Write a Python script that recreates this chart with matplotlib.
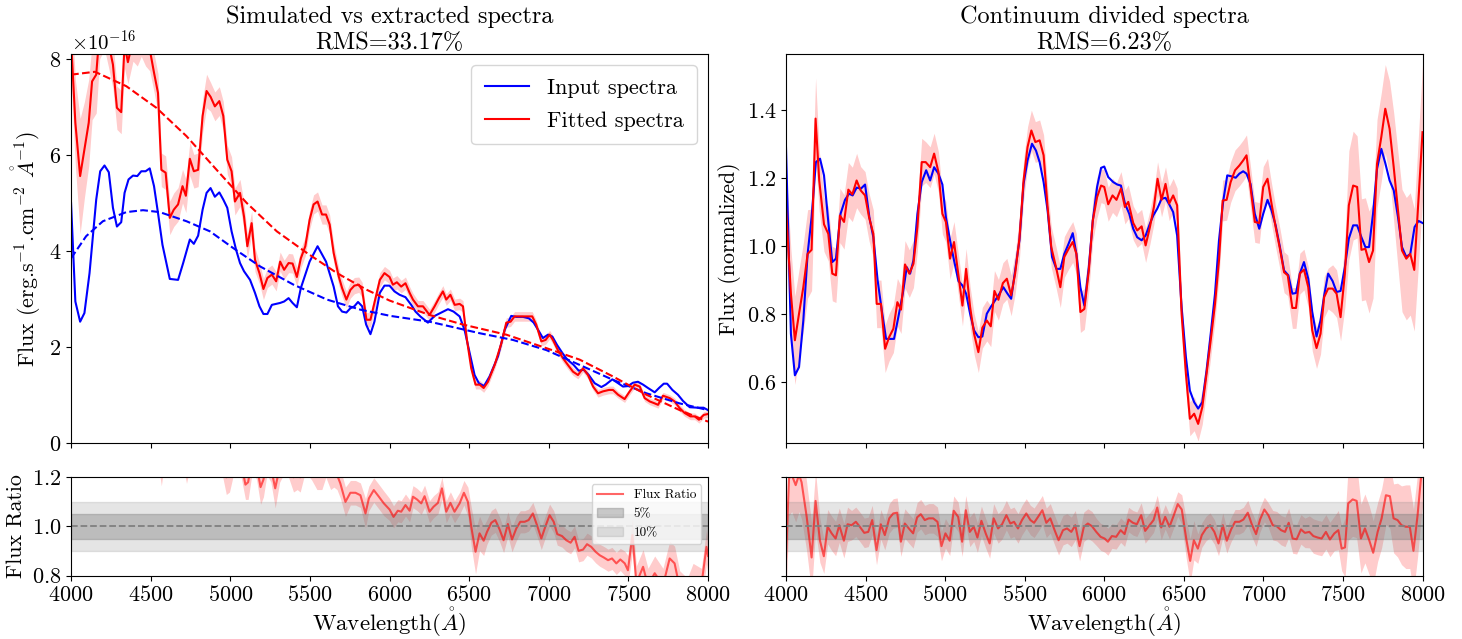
import matplotlib
matplotlib.use("Agg")
import matplotlib.pyplot as plt
import numpy as np

# ---- data (flux in units of 1e-16) ----
INPUT_SPEC = [
    (4000, 5.00), (4027, 2.95), (4057, 2.53), (4084, 2.71), (4116, 3.54), (4158, 5.07),
    (4183, 5.66), (4210, 5.78), (4237, 5.64), (4263, 4.90), (4288, 4.51), (4315, 4.60),
    (4336, 5.21), (4361, 5.49), (4389, 5.57), (4416, 5.56), (4441, 5.66), (4468, 5.66),
    (4494, 5.72), (4521, 5.35), (4546, 4.79), (4574, 4.13), (4620, 3.42), (4672, 3.40),
    (4704, 3.75), (4746, 4.24), (4771, 4.15), (4798, 4.32), (4826, 4.86), (4851, 5.21),
    (4876, 5.31), (4903, 5.13), (4931, 5.22), (4956, 5.07), (4981, 4.90), (5008, 4.41),
    (5036, 4.03), (5061, 3.75), (5086, 3.58), (5124, 3.40), (5155, 3.13), (5183, 2.85),
    (5208, 2.69), (5233, 2.69), (5261, 2.88), (5313, 2.92), (5338, 2.95), (5366, 3.02),
    (5391, 2.92), (5418, 2.83), (5443, 3.23), (5498, 3.78), (5548, 4.10), (5601, 3.78),
    (5649, 3.26), (5676, 2.85), (5702, 2.74), (5729, 2.72), (5754, 2.81), (5779, 2.85),
    (5802, 2.94), (5828, 2.85), (5853, 2.47), (5880, 2.27), (5905, 2.53), (5939, 3.13),
    (5968, 3.28), (6000, 3.28), (6031, 3.16), (6063, 3.09), (6100, 3.04), (6136, 2.88),
    (6163, 2.74), (6193, 2.64), (6241, 2.51), (6283, 2.65), (6325, 2.72), (6367, 2.79),
    (6402, 2.74), (6440, 2.64), (6471, 2.36), (6503, 1.88), (6534, 1.42), (6561, 1.25),
    (6593, 1.19), (6628, 1.39), (6681, 1.81), (6723, 2.36), (6764, 2.65), (6796, 2.63),
    (6838, 2.63), (6875, 2.60), (6905, 2.51), (6938, 2.33), (6963, 2.19), (6995, 2.26),
    (7022, 2.22), (7051, 2.05), (7085, 1.88), (7114, 1.75), (7156, 1.63), (7188, 1.51),
    (7219, 1.53), (7251, 1.42), (7288, 1.25), (7330, 1.17), (7357, 1.22), (7399, 1.33),
    (7435, 1.25), (7466, 1.18), (7497, 1.19), (7529, 1.26), (7560, 1.28), (7592, 1.22),
    (7623, 1.15), (7665, 1.06), (7692, 1.15), (7722, 1.24), (7743, 1.24), (7776, 1.11),
    (7811, 1.01), (7843, 0.88), (7885, 0.75), (7937, 0.74), (7972, 0.74), (8000, 0.69),
]

# (wavelength, flux, error)
FITTED_SPEC = [
    (4000, 8.40, 0.80), (4027, 6.67, 0.90), (4057, 5.56, 1.20), (4084, 6.11, 1.00),
    (4111, 6.67, 0.90), (4132, 7.53, 0.80), (4158, 7.67, 0.80), (4180, 8.60, 0.60),
    (4210, 8.80, 0.60), (4237, 8.30, 0.50), (4263, 7.88, 0.50), (4288, 6.98, 0.45),
    (4315, 6.89, 0.45), (4336, 8.30, 0.50), (4357, 7.93, 0.45), (4389, 8.40, 0.45),
    (4416, 8.30, 0.45), (4441, 8.50, 0.45), (4468, 8.30, 0.45), (4494, 8.20, 0.45),
    (4521, 7.71, 0.40), (4546, 7.29, 0.40), (4567, 5.69, 0.35), (4594, 5.63, 0.35),
    (4620, 4.69, 0.35), (4645, 4.86, 0.35), (4672, 4.97, 0.35), (4700, 5.35, 0.35),
    (4721, 5.15, 0.35), (4746, 5.92, 0.35), (4771, 5.66, 0.35), (4798, 5.69, 0.35),
    (4826, 6.81, 0.35), (4851, 7.33, 0.35), (4876, 7.21, 0.30), (4903, 7.01, 0.30),
    (4931, 7.12, 0.30), (4956, 6.81, 0.30), (4981, 5.90, 0.30), (5008, 5.66, 0.30),
    (5029, 5.03, 0.28), (5061, 5.21, 0.28), (5086, 4.72, 0.28), (5107, 4.10, 0.25),
    (5134, 4.58, 0.25), (5155, 3.82, 0.25), (5183, 3.54, 0.22), (5208, 3.21, 0.22),
    (5233, 3.44, 0.20), (5261, 3.51, 0.20), (5288, 3.37, 0.20), (5313, 3.78, 0.20),
    (5338, 3.61, 0.20), (5366, 3.75, 0.20), (5391, 3.74, 0.20), (5418, 3.46, 0.20),
    (5443, 3.85, 0.20), (5471, 4.10, 0.20), (5498, 4.65, 0.20), (5523, 4.97, 0.20),
    (5548, 5.03, 0.20), (5576, 4.76, 0.20), (5601, 4.76, 0.20), (5624, 4.55, 0.20),
    (5649, 3.96, 0.20), (5681, 3.47, 0.18), (5702, 3.23, 0.18), (5729, 2.99, 0.17),
    (5754, 3.19, 0.17), (5779, 3.28, 0.17), (5807, 3.30, 0.16), (5828, 3.19, 0.16),
    (5855, 2.57, 0.15), (5880, 2.57, 0.15), (5905, 2.92, 0.15), (5939, 3.40, 0.15),
    (5968, 3.54, 0.14), (6000, 3.46, 0.14), (6021, 3.30, 0.14), (6046, 3.35, 0.14),
    (6073, 3.26, 0.13), (6100, 3.33, 0.13), (6126, 3.13, 0.13), (6147, 2.99, 0.13),
    (6178, 2.85, 0.12), (6210, 2.85, 0.12), (6251, 2.67, 0.12), (6283, 2.85, 0.12),
    (6310, 3.02, 0.12), (6335, 3.16, 0.12), (6356, 2.99, 0.12), (6382, 3.09, 0.12),
    (6409, 2.88, 0.12), (6440, 2.90, 0.12), (6461, 2.85, 0.12), (6486, 2.15, 0.10),
    (6513, 1.56, 0.10), (6540, 1.22, 0.09), (6566, 1.22, 0.09), (6591, 1.15, 0.09),
    (6618, 1.28, 0.09), (6660, 1.63, 0.09), (6702, 2.08, 0.10), (6733, 2.51, 0.10),
    (6760, 2.53, 0.10), (6785, 2.64, 0.10), (6827, 2.64, 0.10), (6896, 2.64, 0.10),
    (6921, 2.47, 0.09), (6953, 2.12, 0.09), (6980, 2.15, 0.09), (7005, 2.26, 0.09),
    (7026, 2.15, 0.09), (7057, 1.94, 0.09), (7089, 1.77, 0.09), (7120, 1.63, 0.09),
    (7152, 1.49, 0.08), (7183, 1.42, 0.08), (7215, 1.56, 0.08), (7246, 1.42, 0.08),
    (7278, 1.18, 0.08), (7309, 1.04, 0.08), (7340, 1.08, 0.08), (7378, 1.11, 0.08),
    (7403, 1.11, 0.08), (7435, 1.01, 0.07), (7476, 0.92, 0.07), (7508, 1.08, 0.07),
    (7539, 1.22, 0.07), (7571, 1.18, 0.07), (7602, 0.94, 0.07), (7634, 0.87, 0.07),
    (7665, 0.83, 0.07), (7686, 0.80, 0.07), (7717, 0.99, 0.07), (7759, 0.94, 0.07),
    (7790, 0.87, 0.07), (7822, 0.73, 0.07), (7853, 0.63, 0.07), (7889, 0.56, 0.07),
    (7916, 0.56, 0.07), (7943, 0.49, 0.07), (7973, 0.59, 0.07), (8000, 0.61, 0.07),
]

CONT_INPUT = [
    (4000, 3.85), (4095, 4.31), (4200, 4.62), (4347, 4.81), (4452, 4.85), (4557, 4.81),
    (4725, 4.62), (4872, 4.41), (5019, 4.06), (5187, 3.68), (5397, 3.30), (5607, 2.99),
    (5817, 2.78), (6006, 2.65), (6251, 2.53), (6566, 2.29), (6775, 2.15), (6984, 1.94),
    (7194, 1.63), (7403, 1.32), (7613, 1.04), (7822, 0.83), (8000, 0.69),
]
CONT_FITTED = [
    (4000, 7.67), (4150, 7.73), (4347, 7.43), (4536, 6.98), (4725, 6.39), (4914, 5.69),
    (5103, 5.00), (5292, 4.41), (5481, 3.96), (5670, 3.54), (5859, 3.19), (6000, 2.97),
    (6251, 2.67), (6461, 2.47), (6733, 2.26), (6984, 1.98), (7194, 1.74), (7403, 1.39),
    (7613, 1.01), (7822, 0.69), (8000, 0.45),
]

NORM_INPUT = [
    (4000, 1.293), (4031, 0.742), (4056, 0.620), (4082, 0.644), (4109, 0.781), (4136, 0.977),
    (4161, 1.085), (4188, 1.247), (4214, 1.257), (4239, 1.208), (4266, 1.071), (4291, 0.953),
    (4314, 0.963), (4343, 1.095), (4371, 1.136), (4396, 1.154), (4419, 1.149), (4444, 1.172),
    (4471, 1.169), (4497, 1.181), (4524, 1.085), (4549, 1.026), (4576, 0.899), (4602, 0.811),
    (4629, 0.727), (4654, 0.727), (4679, 0.727), (4706, 0.791), (4734, 0.860), (4759, 0.938),
    (4780, 0.919), (4801, 0.958), (4826, 1.095), (4853, 1.188), (4881, 1.223), (4906, 1.193),
    (4931, 1.232), (4958, 1.213), (4983, 1.181), (5005, 1.085), (5031, 1.017), (5056, 0.958),
    (5084, 0.897), (5109, 0.884), (5132, 0.860), (5157, 0.801), (5182, 0.752), (5209, 0.732),
    (5234, 0.734), (5262, 0.801), (5287, 0.821), (5314, 0.840), (5339, 0.858), (5366, 0.879),
    (5392, 0.860), (5415, 0.845), (5440, 0.928), (5467, 1.017), (5493, 1.183), (5518, 1.252),
    (5546, 1.301), (5571, 1.281), (5594, 1.247), (5619, 1.188), (5644, 1.105), (5672, 0.968),
    (5699, 0.933), (5724, 0.933), (5749, 0.977), (5776, 1.007), (5802, 1.038), (5825, 0.977),
    (5850, 0.879), (5875, 0.825), (5903, 0.938), (5928, 1.075), (5955, 1.174), (5980, 1.230),
    (6000, 1.234), (6025, 1.203), (6057, 1.188), (6082, 1.181), (6105, 1.178), (6130, 1.125),
    (6157, 1.095), (6182, 1.051), (6207, 1.026), (6235, 1.017), (6260, 1.031), (6287, 1.066),
    (6308, 1.090), (6333, 1.110), (6360, 1.139), (6385, 1.142), (6408, 1.123), (6433, 1.100),
    (6458, 1.031), (6486, 0.821), (6513, 0.674), (6538, 0.575), (6565, 0.541), (6590, 0.522),
    (6616, 0.541), (6643, 0.634), (6669, 0.742), (6696, 0.860), (6721, 1.017), (6748, 1.134),
    (6773, 1.208), (6800, 1.205), (6826, 1.201), (6849, 1.213), (6873, 1.220), (6894, 1.213),
    (6919, 1.183), (6946, 1.095), (6974, 1.051), (6999, 1.095), (7026, 1.136), (7051, 1.105),
    (7077, 1.061), (7104, 0.997), (7130, 0.928), (7157, 0.914), (7182, 0.860), (7205, 0.862),
    (7229, 0.919), (7255, 0.953), (7282, 0.904), (7307, 0.806), (7334, 0.734), (7359, 0.781),
    (7382, 0.855), (7407, 0.919), (7435, 0.897), (7460, 0.865), (7485, 0.868), (7512, 0.938),
    (7537, 1.022), (7564, 1.061), (7589, 1.061), (7616, 1.026), (7641, 0.997), (7664, 0.997),
    (7689, 1.095), (7714, 1.227), (7741, 1.286), (7766, 1.244), (7793, 1.193), (7819, 1.164),
    (7846, 1.085), (7871, 0.997), (7898, 0.968), (7923, 0.977), (7950, 1.056), (7975, 1.074),
    (8000, 1.068),
]

NORM_FITTED = [
    (4000, 1.115, 0.12), (4031, 0.860, 0.13), (4056, 0.723, 0.13), (4082, 0.801, 0.13),
    (4109, 0.879, 0.13), (4136, 0.977, 0.13), (4161, 0.989, 0.12), (4186, 1.375, 0.12),
    (4209, 1.193, 0.09), (4239, 1.064, 0.08), (4266, 1.036, 0.08), (4291, 0.919, 0.08),
    (4314, 0.914, 0.08), (4339, 1.090, 0.08), (4365, 1.071, 0.08), (4392, 1.166, 0.08),
    (4417, 1.152, 0.08), (4444, 1.193, 0.08), (4469, 1.164, 0.07), (4497, 1.149, 0.07),
    (4522, 1.085, 0.07), (4549, 1.036, 0.07), (4570, 0.830, 0.07), (4597, 0.830, 0.07),
    (4623, 0.698, 0.07), (4648, 0.732, 0.07), (4675, 0.757, 0.07), (4700, 0.835, 0.07),
    (4723, 0.813, 0.07), (4748, 0.946, 0.07), (4775, 0.919, 0.07), (4801, 0.948, 0.07),
    (4826, 1.056, 0.07), (4853, 1.247, 0.07), (4878, 1.247, 0.06), (4906, 1.232, 0.06),
    (4931, 1.272, 0.06), (4958, 1.218, 0.06), (4983, 1.095, 0.06), (5005, 1.071, 0.06),
    (5031, 0.963, 0.06), (5056, 1.012, 0.06), (5084, 0.914, 0.06), (5109, 0.825, 0.06),
    (5132, 0.933, 0.06), (5157, 0.821, 0.06), (5182, 0.742, 0.06), (5209, 0.688, 0.06),
    (5234, 0.760, 0.06), (5262, 0.781, 0.06), (5287, 0.764, 0.06), (5310, 0.868, 0.06),
    (5335, 0.842, 0.06), (5363, 0.891, 0.06), (5388, 0.904, 0.06), (5415, 0.855, 0.06),
    (5440, 0.919, 0.06), (5467, 1.022, 0.06), (5493, 1.193, 0.06), (5518, 1.291, 0.06),
    (5542, 1.340, 0.06), (5567, 1.306, 0.06), (5594, 1.311, 0.06), (5619, 1.267, 0.06),
    (5644, 1.115, 0.06), (5667, 0.997, 0.06), (5697, 0.938, 0.06), (5724, 0.879, 0.06),
    (5749, 0.968, 0.06), (5776, 0.992, 0.06), (5802, 1.012, 0.06), (5825, 0.977, 0.06),
    (5850, 0.806, 0.06), (5875, 0.815, 0.06), (5903, 0.928, 0.06), (5928, 1.075, 0.06),
    (5955, 1.144, 0.06), (5980, 1.178, 0.05), (6000, 1.174, 0.05), (6025, 1.123, 0.05),
    (6052, 1.149, 0.05), (6077, 1.136, 0.05), (6105, 1.169, 0.05), (6130, 1.115, 0.05),
    (6151, 1.130, 0.05), (6182, 1.068, 0.05), (6207, 1.046, 0.05), (6235, 1.058, 0.05),
    (6260, 1.002, 0.05), (6287, 1.056, 0.05), (6312, 1.115, 0.05), (6335, 1.198, 0.05),
    (6360, 1.136, 0.05), (6385, 1.183, 0.05), (6408, 1.125, 0.05), (6433, 1.149, 0.05),
    (6458, 1.120, 0.05), (6486, 0.801, 0.05), (6513, 0.625, 0.05), (6538, 0.492, 0.05),
    (6565, 0.507, 0.05), (6590, 0.477, 0.05), (6616, 0.526, 0.05), (6643, 0.625, 0.05),
    (6669, 0.723, 0.05), (6696, 0.830, 0.05), (6721, 0.958, 0.05), (6744, 1.134, 0.06),
    (6769, 1.136, 0.06), (6794, 1.188, 0.06), (6822, 1.223, 0.06), (6849, 1.237, 0.06),
    (6873, 1.252, 0.06), (6894, 1.267, 0.06), (6919, 1.174, 0.06), (6946, 1.071, 0.06),
    (6974, 1.068, 0.06), (6999, 1.174, 0.06), (7026, 1.198, 0.06), (7051, 1.125, 0.06),
    (7077, 1.056, 0.06), (7104, 0.992, 0.06), (7130, 0.923, 0.06), (7153, 0.914, 0.06),
    (7182, 0.818, 0.06), (7205, 0.818, 0.06), (7229, 0.919, 0.06), (7255, 0.931, 0.06),
    (7282, 0.879, 0.06), (7307, 0.752, 0.06), (7334, 0.700, 0.06), (7359, 0.742, 0.06),
    (7382, 0.850, 0.06), (7407, 0.875, 0.06), (7435, 0.875, 0.07), (7460, 0.860, 0.07),
    (7485, 0.791, 0.07), (7512, 0.919, 0.10), (7537, 1.120, 0.16), (7564, 1.178, 0.16),
    (7589, 1.174, 0.15), (7616, 0.989, 0.15), (7641, 0.992, 0.15), (7664, 0.953, 0.15),
    (7689, 0.987, 0.14), (7714, 1.242, 0.13), (7741, 1.321, 0.13), (7766, 1.404, 0.13),
    (7793, 1.345, 0.14), (7819, 1.232, 0.16), (7846, 1.105, 0.17), (7871, 0.987, 0.18),
    (7898, 0.963, 0.18), (7923, 0.977, 0.18), (7948, 0.930, 0.18), (7973, 1.125, 0.19),
    (8000, 1.335, 0.20),
]

# (wavelength, ratio, error) for the bottom panels
RATIO_LEFT = [
    (4000, 1.62, 0.08), (4050, 1.90, 0.10), (4100, 1.75, 0.08), (4150, 1.48, 0.08),
    (4200, 1.52, 0.07), (4260, 1.60, 0.07), (4320, 1.50, 0.07), (4380, 1.45, 0.07),
    (4440, 1.48, 0.07), (4500, 1.40, 0.07), (4540, 1.35, 0.06), (4567, 1.24, 0.075),
    (4595, 1.36, 0.06), (4650, 1.40, 0.06), (4700, 1.32, 0.06), (4725, 1.24, 0.065),
    (4760, 1.34, 0.06), (4820, 1.36, 0.06), (4880, 1.38, 0.06), (4940, 1.30, 0.06),
    (4975, 1.20, 0.07), (4995, 1.21, 0.07), (5030, 1.30, 0.06), (5065, 1.27, 0.06),
    (5095, 1.17, 0.06), (5112, 1.18, 0.07), (5140, 1.29, 0.06), (5165, 1.25, 0.06),
    (5190, 1.16, 0.07), (5208, 1.19, 0.07), (5230, 1.27, 0.06), (5255, 1.24, 0.06),
    (5282, 1.155, 0.08), (5310, 1.24, 0.06), (5350, 1.29, 0.06), (5397, 1.20, 0.06),
    (5420, 1.21, 0.06), (5439, 1.20, 0.06), (5470, 1.28, 0.06), (5510, 1.25, 0.06),
    (5544, 1.21, 0.06), (5575, 1.21, 0.06), (5600, 1.26, 0.06), (5630, 1.21, 0.06),
    (5650, 1.22, 0.06), (5670, 1.21, 0.06), (5691, 1.175, 0.06), (5723, 1.100, 0.06),
    (5754, 1.137, 0.05), (5786, 1.137, 0.05), (5817, 1.127, 0.05), (5849, 1.053, 0.06),
    (5870, 1.114, 0.05), (5901, 1.148, 0.05), (5933, 1.121, 0.05), (5964, 1.094, 0.05),
    (6000, 1.069, 0.045), (6025, 1.039, 0.045), (6052, 1.064, 0.045), (6073, 1.060, 0.045),
    (6100, 1.087, 0.045), (6126, 1.064, 0.045), (6147, 1.121, 0.045), (6172, 1.110, 0.045),
    (6199, 1.094, 0.045), (6220, 1.123, 0.045), (6251, 1.060, 0.045), (6276, 1.080, 0.045),
    (6304, 1.096, 0.045), (6329, 1.155, 0.045), (6356, 1.060, 0.045), (6382, 1.096, 0.045),
    (6408, 1.060, 0.045), (6440, 1.094, 0.045), (6467, 1.137, 0.05), (6492, 1.100, 0.06),
    (6513, 0.999, 0.08), (6540, 0.897, 0.09), (6565, 0.972, 0.07), (6591, 0.942, 0.06),
    (6612, 0.978, 0.05), (6639, 1.015, 0.05), (6664, 1.026, 0.05), (6691, 0.988, 0.05),
    (6716, 0.944, 0.05), (6743, 1.010, 0.05), (6769, 0.947, 0.05), (6796, 0.992, 0.05),
    (6821, 1.019, 0.045), (6848, 1.019, 0.045), (6873, 1.026, 0.045), (6900, 1.053, 0.045),
    (6926, 1.005, 0.045), (6953, 0.951, 0.045), (6978, 0.999, 0.045), (7005, 1.046, 0.045),
    (7031, 1.019, 0.045), (7053, 0.969, 0.045), (7083, 0.961, 0.045), (7110, 0.944, 0.045),
    (7137, 0.934, 0.045), (7162, 0.958, 0.045), (7187, 0.901, 0.045), (7215, 0.906, 0.045),
    (7240, 0.928, 0.045), (7267, 0.917, 0.045), (7294, 0.897, 0.045), (7320, 0.883, 0.045),
    (7345, 0.874, 0.045), (7372, 0.863, 0.045), (7397, 0.870, 0.045), (7424, 0.850, 0.045),
    (7449, 0.866, 0.045), (7477, 0.850, 0.05), (7497, 0.822, 0.06), (7525, 0.965, 0.07),
    (7550, 0.770, 0.07), (7592, 0.836, 0.07), (7623, 0.760, 0.07), (7665, 0.810, 0.07),
    (7717, 0.760, 0.07), (7759, 0.870, 0.07), (7790, 0.850, 0.07), (7822, 0.750, 0.07),
    (7870, 0.720, 0.07), (7906, 0.780, 0.07), (7958, 0.760, 0.07), (7990, 0.917, 0.07),
    (8000, 0.880, 0.07),
]

RATIO_RIGHT = [
    (4000, 0.863, 0.15), (4019, 1.195, 0.15), (4036, 1.210, 0.15), (4061, 1.168, 0.15),
    (4082, 1.210, 0.15), (4098, 1.180, 0.15), (4130, 1.040, 0.14), (4161, 0.874, 0.14),
    (4186, 1.104, 0.12), (4213, 0.944, 0.09), (4238, 0.879, 0.07), (4262, 0.999, 0.07),
    (4287, 0.972, 0.07), (4312, 0.951, 0.07), (4335, 1.005, 0.07), (4364, 0.942, 0.07),
    (4387, 1.009, 0.07), (4412, 1.005, 0.06), (4439, 1.019, 0.06), (4464, 0.999, 0.06),
    (4492, 0.974, 0.06), (4517, 0.978, 0.06), (4542, 1.026, 0.06), (4569, 0.904, 0.06),
    (4596, 1.009, 0.06), (4621, 0.965, 0.06), (4649, 1.033, 0.06), (4674, 1.053, 0.06),
    (4699, 1.056, 0.06), (4722, 0.938, 0.06), (4747, 1.012, 0.06), (4772, 0.992, 0.06),
    (4799, 0.972, 0.06), (4824, 1.037, 0.06), (4847, 1.050, 0.06), (4872, 1.026, 0.06),
    (4897, 1.033, 0.06), (4925, 1.033, 0.06), (4952, 1.019, 0.06), (4977, 0.920, 0.06),
    (5002, 0.972, 0.06), (5029, 0.942, 0.06), (5054, 1.064, 0.06), (5082, 1.039, 0.06),
    (5107, 0.938, 0.06), (5130, 1.066, 0.06), (5155, 0.978, 0.06), (5180, 0.999, 0.06),
    (5203, 0.955, 0.06), (5228, 1.023, 0.06), (5255, 0.972, 0.06), (5280, 0.931, 0.06),
    (5305, 1.033, 0.06), (5333, 0.992, 0.06), (5358, 1.009, 0.06), (5385, 1.046, 0.06),
    (5410, 1.012, 0.06), (5433, 1.019, 0.06), (5458, 0.992, 0.06), (5483, 1.026, 0.06),
    (5510, 1.053, 0.06), (5536, 1.026, 0.06), (5559, 1.015, 0.06), (5584, 1.039, 0.06),
    (5611, 1.066, 0.06), (5636, 1.015, 0.06), (5661, 1.033, 0.06), (5688, 0.985, 0.06),
    (5713, 0.944, 0.06), (5741, 0.985, 0.06), (5766, 0.992, 0.06), (5793, 0.978, 0.06),
    (5818, 1.005, 0.06), (5845, 0.920, 0.06), (5872, 0.999, 0.06), (5897, 1.012, 0.06),
    (5923, 1.001, 0.06), (5950, 0.978, 0.055), (5977, 0.958, 0.055), (6002, 0.951, 0.055),
    (6023, 0.938, 0.055), (6048, 0.961, 0.05), (6075, 0.958, 0.05), (6103, 0.985, 0.05),
    (6128, 0.969, 0.05), (6153, 1.028, 0.05), (6180, 1.015, 0.05), (6205, 1.009, 0.05),
    (6232, 1.046, 0.05), (6257, 0.982, 0.05), (6285, 1.005, 0.05), (6310, 1.026, 0.05),
    (6333, 1.077, 0.05), (6358, 0.996, 0.05), (6383, 1.039, 0.05), (6410, 0.999, 0.05),
    (6435, 1.042, 0.05), (6462, 1.091, 0.05), (6487, 1.069, 0.06), (6515, 0.951, 0.08),
    (6540, 0.860, 0.09), (6563, 0.944, 0.08), (6588, 0.910, 0.06), (6613, 0.965, 0.05),
    (6640, 0.992, 0.05), (6665, 1.005, 0.05), (6692, 0.978, 0.05), (6718, 0.931, 0.05),
    (6745, 1.005, 0.05), (6770, 0.942, 0.05), (6797, 0.988, 0.05), (6822, 1.019, 0.05),
    (6849, 1.019, 0.05), (6874, 1.028, 0.05), (6902, 1.056, 0.05), (6927, 1.009, 0.05),
    (6954, 0.969, 0.05), (6979, 1.028, 0.05), (7006, 1.069, 0.05), (7031, 1.046, 0.05),
    (7059, 1.005, 0.06), (7084, 1.001, 0.06), (7111, 0.985, 0.06), (7136, 0.978, 0.06),
    (7159, 1.015, 0.06), (7184, 0.951, 0.06), (7209, 0.948, 0.06), (7236, 0.988, 0.06),
    (7261, 0.974, 0.06), (7289, 0.978, 0.065), (7314, 0.961, 0.07), (7341, 0.955, 0.07),
    (7366, 0.951, 0.07), (7393, 0.978, 0.07), (7418, 0.947, 0.07), (7446, 0.972, 0.07),
    (7471, 0.985, 0.08), (7492, 0.910, 0.09), (7513, 0.915, 0.12), (7533, 1.094, 0.15),
    (7561, 1.110, 0.15), (7586, 1.104, 0.15), (7613, 0.951, 0.14), (7638, 0.992, 0.14),
    (7665, 0.944, 0.14), (7690, 0.893, 0.13), (7718, 0.978, 0.12), (7743, 1.033, 0.12),
    (7770, 1.127, 0.12), (7795, 1.123, 0.13), (7818, 1.033, 0.14), (7843, 1.026, 0.15),
    (7868, 1.005, 0.16), (7895, 0.999, 0.17), (7920, 0.999, 0.17), (7943, 0.901, 0.17),
    (7969, 1.046, 0.17), (7990, 1.195, 0.17), (8000, 1.250, 0.17),
]

TITLES = ["Simulated vs extracted spectra\nRMS=33.17%",
          "Continuum divided spectra\nRMS=6.23%"]
WAVE_TICKS = [4000, 4500, 5000, 5500, 6000, 6500, 7000, 7500, 8000]
SCALE = 1e-16

plt.rcParams["font.family"] = "serif"
plt.rcParams["font.serif"] = ["cmr10", "DejaVu Serif"]
plt.rcParams["mathtext.fontset"] = "cm"
plt.rcParams["axes.formatter.use_mathtext"] = True
plt.rcParams["axes.unicode_minus"] = False

WAVE_LABEL = r"Wavelength($\mathring{A}$)"
FLUX_LABEL = r"Flux (erg.s$^{-1}$.cm$^{-2}$ $\mathring{A}^{-1}$)"


def cols(rows):
    return [np.array(c, dtype=float) for c in zip(*rows)]


def ratio_panel(ax, rows, show_legend):
    w, r, e = cols(rows)
    ax.plot(w, r, color="red", alpha=0.6, lw=1.5, label="Flux Ratio")
    ax.fill_between(w, r - e, r + e, color="red", alpha=0.2, lw=0)
    ax.axhspan(0.95, 1.05, color="gray", alpha=0.4, label="5%")
    ax.axhspan(0.90, 1.10, color="gray", alpha=0.2, label="10%")
    ax.axhline(1.0, color="gray", ls="--", lw=1.3)
    ax.set_xlim(4000, 8000)
    ax.set_ylim(0.8, 1.2)
    ax.set_yticks([0.8, 1.0, 1.2])
    ax.set_xticks(WAVE_TICKS)
    ax.set_xlabel(WAVE_LABEL, fontsize=16.5, labelpad=0)
    if show_legend:
        ax.set_ylabel("Flux Ratio", fontsize=15.8)
        ax.legend(loc="upper right", fontsize=9.5)
    else:
        ax.set_yticklabels([])
    ax.tick_params(labelsize=16)


fig = plt.figure(figsize=(14.62, 6.39), dpi=100)
ax1 = fig.add_axes([0.0486, 0.3063, 0.4357, 0.6092])
ax2 = fig.add_axes([0.5376, 0.3063, 0.4354, 0.6092])
ax3 = fig.add_axes([0.0486, 0.0991, 0.4357, 0.1540])
ax4 = fig.add_axes([0.5376, 0.0991, 0.4354, 0.1540])

# top left: spectra with continua
w_in, f_in = cols(INPUT_SPEC)
w_fit, f_fit, e_fit = cols(FITTED_SPEC)
w_ci, f_ci = cols(CONT_INPUT)
w_cf, f_cf = cols(CONT_FITTED)
ax1.plot(w_in, f_in * SCALE, color="blue", lw=1.5, label="Input spectra")
ax1.plot(w_fit, f_fit * SCALE, color="red", lw=1.5, label="Fitted spectra")
ax1.fill_between(w_fit, (f_fit - e_fit) * SCALE, (f_fit + e_fit) * SCALE,
                 color="red", alpha=0.2, lw=0)
ax1.plot(w_ci, f_ci * SCALE, color="blue", ls="--", lw=1.5)
ax1.plot(w_cf, f_cf * SCALE, color="red", ls="--", lw=1.5)
ax1.set_xlim(4000, 8000)
ax1.set_ylim(0, 8.1e-16)
ax1.set_xticks(WAVE_TICKS)
ax1.set_xticklabels([])
ax1.set_ylabel(FLUX_LABEL, fontsize=15.8)
ax1.set_title(TITLES[0], fontsize=17.5, pad=3)
ax1.legend(loc="upper right", fontsize=16, borderpad=0.6, labelspacing=0.6)
ax1.tick_params(labelsize=16)
ax1.yaxis.get_offset_text().set_fontsize(15)

# top right: continuum divided spectra
w_ni, f_ni = cols(NORM_INPUT)
w_nf, f_nf, e_nf = cols(NORM_FITTED)
ax2.plot(w_ni, f_ni, color="blue", lw=1.5)
ax2.plot(w_nf, f_nf, color="red", lw=1.5)
ax2.fill_between(w_nf, f_nf - e_nf, f_nf + e_nf, color="red", alpha=0.2, lw=0)
ax2.set_xlim(4000, 8000)
ax2.set_ylim(0.42, 1.565)
ax2.set_xticks(WAVE_TICKS)
ax2.set_xticklabels([])
ax2.set_yticks([0.6, 0.8, 1.0, 1.2, 1.4])
ax2.set_ylabel("Flux (normalized)", fontsize=15.8)
ax2.set_title(TITLES[1], fontsize=17.5, pad=3)
ax2.tick_params(labelsize=16)

ratio_panel(ax3, RATIO_LEFT, True)
ratio_panel(ax4, RATIO_RIGHT, False)

fig.savefig("out.png", dpi=100)
